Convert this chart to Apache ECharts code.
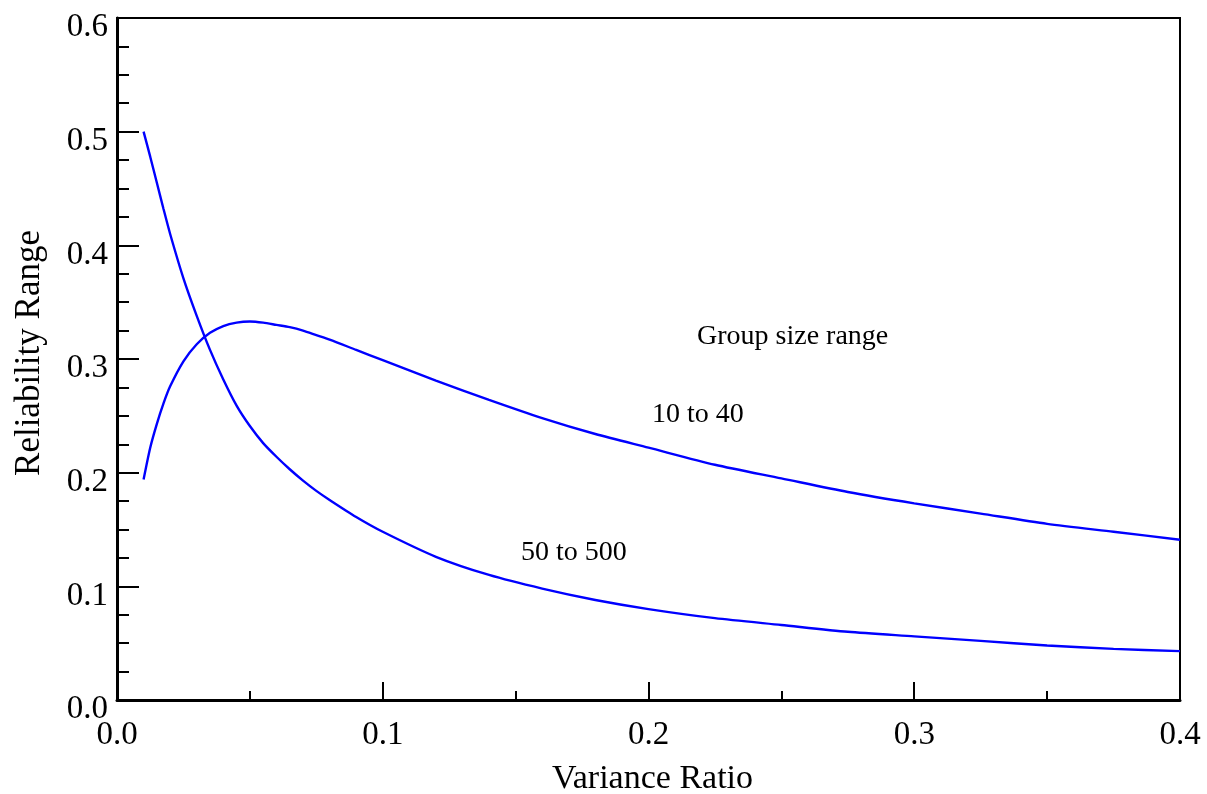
<!DOCTYPE html>
<html>
<head>
<meta charset="utf-8">
<script src="https://cdn.jsdelivr.net/npm/echarts@6/dist/echarts.min.js"></script>
<style>
html,body{margin:0;padding:0;background:#fff;}
#c{width:1207px;height:794px;}
</style>
</head>
<body>
<div id="c"></div>
<script>
// Variance ratio values (x)
const varianceRatio = [0.01, 0.0125, 0.015, 0.0175, 0.02, 0.025, 0.03, 0.035, 0.04, 0.045, 0.05, 0.055, 0.06, 0.065, 0.07, 0.075, 0.08, 0.09, 0.10, 0.12, 0.14, 0.16, 0.18, 0.20, 0.225, 0.25, 0.275, 0.30, 0.325, 0.35, 0.375, 0.40];
// Reliability range, group size 10 to 40
const range10to40 = [0.194, 0.222, 0.243, 0.261, 0.276, 0.298, 0.313, 0.323, 0.329, 0.332, 0.333, 0.332, 0.330, 0.328, 0.325, 0.321, 0.317, 0.308, 0.299, 0.281, 0.264, 0.248, 0.234, 0.222, 0.207, 0.195, 0.183, 0.173, 0.164, 0.155, 0.148, 0.141];
// Reliability range, group size 50 to 500
const range50to500 = [0.500, 0.478, 0.455, 0.432, 0.410, 0.371, 0.338, 0.308, 0.282, 0.259, 0.241, 0.226, 0.214, 0.203, 0.193, 0.184, 0.176, 0.161, 0.148, 0.126, 0.110, 0.098, 0.088, 0.080, 0.072, 0.066, 0.060, 0.056, 0.052, 0.048, 0.045, 0.043];
const xTickLabels = ['0.0', '0.1', '0.2', '0.3', '0.4'];
const yTickLabels = ['0.0', '0.1', '0.2', '0.3', '0.4', '0.5', '0.6'];
const annotations = ['Group size range', '10 to 40', '50 to 500'];

const FONT = '"Liberation Serif", "Times New Roman", serif';
const pair = (xs, ys) => xs.map((x, i) => [x, ys[i]]);

const chart = echarts.init(document.getElementById('c'), null, {renderer: 'canvas'});
chart.setOption({
  animation: false,
  backgroundColor: '#fff',
  grid: {left: 117, right: 27, top: 18, bottom: 94, containLabel: false, outerBoundsMode: 'none',
    show: true, borderColor: '#000', borderWidth: 2, backgroundColor: 'transparent'},
  xAxis: {
    type: 'value', min: 0, max: 0.4, interval: 0.1,
    name: 'Variance Ratio', nameLocation: 'middle', nameGap: 62,
    nameTextStyle: {fontFamily: FONT, fontSize: 34, color: '#000', padding: [0, 0, 0, 8]},
    axisLine: {show: true, lineStyle: {color: '#000', width: 3}},
    axisTick: {show: true, inside: true, length: 18, lineStyle: {color: '#000', width: 2}},
    minorTick: {show: true, splitNumber: 2, length: 9, lineStyle: {color: '#000', width: 2}},
    splitLine: {show: false},
    axisLabel: {fontFamily: FONT, fontSize: 33, color: '#000', margin: 19,
      formatter: v => xTickLabels[Math.round(v * 10)]}
  },
  yAxis: {
    type: 'value', min: 0, max: 0.6, interval: 0.1,
    name: 'Reliability Range', nameLocation: 'middle', nameGap: 70, nameRotate: 90,
    nameTextStyle: {fontFamily: FONT, fontSize: 35, color: '#000', padding: [0, 0, 0, 12]},
    axisLine: {show: true, lineStyle: {color: '#000', width: 3}},
    axisTick: {show: true, inside: true, length: 22, lineStyle: {color: '#000', width: 2}},
    minorTick: {show: true, splitNumber: 4, length: 12, lineStyle: {color: '#000', width: 2}},
    splitLine: {show: false},
    axisLabel: {fontFamily: FONT, fontSize: 33, color: '#000', margin: 9, verticalAlign: 'top', padding: [-7, 0, 0, 0],
      formatter: v => yTickLabels[Math.round(v * 10)]}
  },
  series: [
    {type: 'line', name: annotations[1], data: pair(varianceRatio, range10to40), smooth: 0.25, showSymbol: false,
     lineStyle: {color: '#0000ff', width: 2.4}, itemStyle: {color: '#0000ff'}},
    {type: 'line', name: annotations[2], data: pair(varianceRatio, range50to500), smooth: 0.25, showSymbol: false,
     lineStyle: {color: '#0000ff', width: 2.4}, itemStyle: {color: '#0000ff'}}
  ],
  graphic: [
    {type: 'text', x: 697, y: 337, style: {text: annotations[0], font: '28px ' + FONT, fill: '#000', verticalAlign: 'middle'}},
    {type: 'text', x: 652, y: 415, style: {text: annotations[1], font: '28px ' + FONT, fill: '#000', verticalAlign: 'middle'}},
    {type: 'text', x: 521, y: 553, style: {text: annotations[2], font: '28px ' + FONT, fill: '#000', verticalAlign: 'middle'}}
  ]
});
</script>
</body>
</html>
